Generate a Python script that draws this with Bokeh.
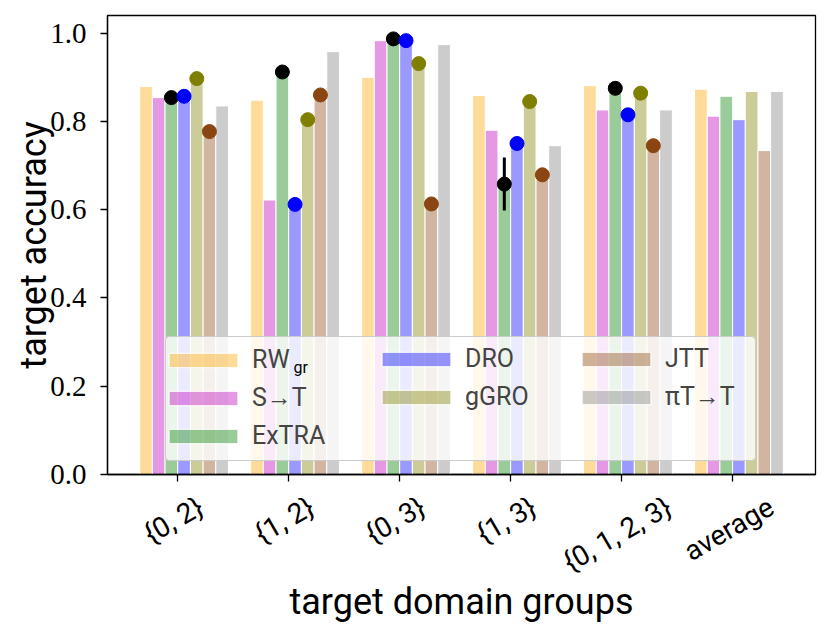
import math
from bokeh.plotting import figure
from bokeh.models import Range1d, FixedTicker, Legend, LegendItem, Label, BoxAnnotation
from bokeh.embed import file_html
from bokeh.resources import INLINE

# ---- data ----
groups = ["{0, 2}", "{1, 2}", "{0, 3}", "{1, 3}", "{0, 1, 2, 3}", "average"]
methods = ["RW", "S→T", "ExTRA", "DRO", "gGRO", "JTT", "πT→T"]
rw_gr = [0.879, 0.848, 0.900, 0.859, 0.881, 0.873]
s_to_t = [0.854, 0.622, 0.983, 0.780, 0.826, 0.812]
extra = [0.854, 0.912, 0.987, 0.658, 0.875, 0.857]
dro = [0.857, 0.612, 0.983, 0.750, 0.815, 0.804]
ggro = [0.897, 0.804, 0.931, 0.845, 0.864, 0.868]
jtt = [0.777, 0.860, 0.613, 0.679, 0.745, 0.734]
pit_to_t = [0.835, 0.958, 0.974, 0.745, 0.826, 0.868]
extra_err = [0.0, 0.0, 0.0, 0.06, 0.0, 0.0]
yticks = [0.0, 0.2, 0.4, 0.6, 0.8, 1.0]
ytick_labels = ["0.0", "0.2", "0.4", "0.6", "0.8", "1.0"]

series = [rw_gr, s_to_t, extra, dro, ggro, jtt, pit_to_t]
bar_colors = ["#FFA500", "#BF00BF", "#008000", "#0000FF", "#808000", "#8B4513", "#808080"]
dot_colors = {2: "black", 3: "blue", 4: "olive", 5: "#8B4513"}

n_groups = len(groups)
w = 0.8 / len(methods)
xg = list(range(n_groups))

X0, X1 = -0.633, 5.747
FRAME_W, FRAME_H = 708, 459
WIDTH, HEIGHT = 826, 634
p = figure(width=WIDTH, height=HEIGHT,
           x_range=Range1d(X0, X1), y_range=Range1d(0, 1.04),
           output_backend="svg", toolbar_location=None,
           min_border_left=107, min_border_right=WIDTH - 107 - FRAME_W,
           min_border_top=15, min_border_bottom=HEIGHT - 15 - FRAME_H)
p.xgrid.visible = False
p.ygrid.visible = False
p.outline_line_color = "black"
p.outline_line_width = 1.3
p.outline_line_alpha = 1.0

bar_renderers = []
for i, vals in enumerate(series):
    xs = [g + (i - 2.5) * w for g in xg]
    r = p.vbar(x=xs, top=vals, bottom=0, width=w, fill_color=bar_colors[i], fill_alpha=0.4,
               line_color="white", line_width=1.0)
    bar_renderers.append(r)

xe = [g + (2 - 2.5) * w for g in xg]
lo = [v - e for v, e in zip(extra, extra_err)]
hi = [v + e for v, e in zip(extra, extra_err)]
p.segment(x0=xe, y0=lo, x1=xe, y1=hi, line_color="black", line_width=3)

for i, c in dot_colors.items():
    xs = [g + (i - 2.5) * w for g in xg[:-1]]
    p.scatter(x=xs, y=series[i][:-1], size=14, color=c)

# ---- x axis: real tick marks drawn as minor ticks at the groups; the rotated
# labels are shifted so that each label is centred on its group (matplotlib style)
XFS = 28
ang = math.pi / 6
cw = {"{": .338, "}": .338, ",": .196, " ": .248, "a": .543, "v": .484, "e": .529, "r": .338, "g": .56}
px_per_unit = FRAME_W / (X1 - X0)
label_pos = []
for g, lab in zip(xg, groups):
    L = sum(cw.get(ch, .5615) for ch in lab) * XFS
    H = 1.17 * XFS
    shift_px = (L / 2.0) * math.cos(ang) - (H / 4.0) * math.sin(ang)
    label_pos.append(round(g + shift_px / px_per_unit, 4))
p.xaxis.ticker = FixedTicker(ticks=label_pos, minor_ticks=xg)
p.xaxis.major_label_overrides = {pos: lab for pos, lab in zip(label_pos, groups)}
p.xaxis.major_label_orientation = ang
p.xaxis.major_label_text_font = "Roboto"
p.xaxis.major_label_text_font_size = f"{XFS}px"
p.xaxis.major_label_standoff = 23
p.xaxis.major_tick_in = 0
p.xaxis.major_tick_out = 0
p.xaxis.major_tick_line_color = None
p.xaxis.minor_tick_in = 0
p.xaxis.minor_tick_out = 7
p.xaxis.minor_tick_line_color = "black"
p.xaxis.minor_tick_line_width = 1.3

p.yaxis.ticker = FixedTicker(ticks=yticks)
p.yaxis.major_label_overrides = {t: l for t, l in zip(yticks, ytick_labels)}
p.yaxis.major_tick_in = 0
p.yaxis.major_tick_out = 7
p.yaxis.minor_tick_line_color = None
p.yaxis.major_tick_line_width = 1.3
p.yaxis.major_tick_line_color = "black"
p.yaxis.major_label_text_font = "Liberation Serif"
p.yaxis.major_label_text_font_size = "29px"
p.yaxis.major_label_standoff = 14

for ax in (p.xaxis, p.yaxis):
    ax.axis_line_width = 1.3
    ax.axis_line_color = "black"
    ax.major_label_text_color = "black"
    ax.axis_label_text_color = "black"
    ax.axis_label_text_font = "Roboto"
    ax.axis_label_text_font_size = "36px"
    ax.axis_label_text_font_style = "normal"
p.xaxis.axis_label = "target domain groups"
p.yaxis.axis_label = "target accuracy"
p.yaxis.axis_label_standoff = -8
p.xaxis.axis_label_standoff = -15

# ---- legend: box + three columns (3, 2, 2) ----
box = BoxAnnotation(left=58, right=648, bottom=14, top=138,
                    left_units="screen", right_units="screen",
                    bottom_units="screen", top_units="screen",
                    fill_color="white", fill_alpha=0.8,
                    line_color="#cccccc", line_width=1, line_alpha=1.0)
try:
    box.border_radius = 4
except Exception:
    pass
p.add_layout(box)

columns = [([0, 1, 2], (53, 24)), ([3, 4], (266, 63)), ([5, 6], (466, 63))]
for ks, loc in columns:
    items = [LegendItem(label=methods[k], renderers=[bar_renderers[k]]) for k in ks]
    lg = Legend(items=items, location=loc, orientation="vertical",
                glyph_width=86, glyph_height=18, label_standoff=6,
                label_text_font="Roboto", label_text_font_size="25px",
                padding=0, spacing=9, margin=0,
                background_fill_alpha=0.0, border_line_color=None)
    p.add_layout(lg, "center")

sub = Label(x=186, y=107, x_units="screen", y_units="screen", text="gr",
            text_font="Roboto", text_font_size="16px", text_color="black",
            text_baseline="alphabetic", level="overlay")
p.add_layout(sub)

open("out.html", "w").write(file_html(p, INLINE))
